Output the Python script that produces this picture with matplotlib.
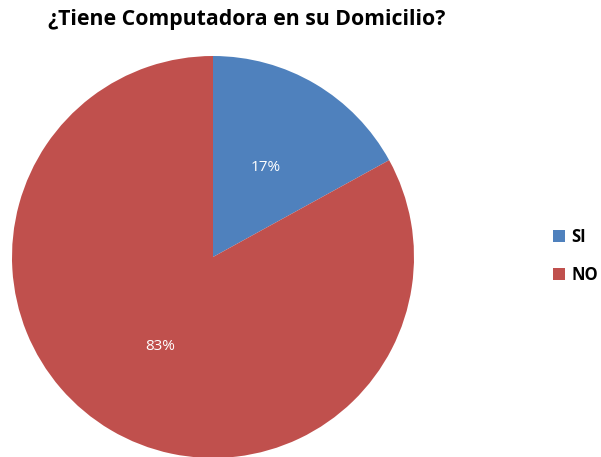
import matplotlib.pyplot as plt
from matplotlib.patches import Patch

# data
labels = ['SI', 'NO']
values = [17, 83]
colors = ['#4F81BD', '#C0504D']

fig = plt.figure(figsize=(6.01, 4.57), dpi=100)
ax = fig.add_axes([12 / 601, (457 - 458) / 457, 402 / 601, 402 / 457])

wedges, texts, autotexts = ax.pie(values, colors=colors, startangle=90, counterclock=False,
                                  autopct='%1.0f%%', pctdistance=0.52, radius=1.0,
                                  textprops={'color': 'white', 'fontsize': 11, 'family': 'Open Sans'})
ax.set_xlim(-1, 1)
ax.set_ylim(-1, 1)
ax.set_aspect('equal')

fig.text(48 / 601, 1 - 20 / 457, '¿Tiene Computadora en su Domicilio?', fontsize=15.3,
         fontweight='bold', family='Open Sans', ha='left', va='center')

handles = [Patch(facecolor=c, edgecolor='none') for c in colors]
leg = fig.legend(handles, labels, loc='center left', bbox_to_anchor=(538 / 601, 1 - 256 / 457),
                 frameon=False, handlelength=0.7, handleheight=0.7, handletextpad=0.4,
                 labelspacing=1.2, prop={'family': 'Open Sans', 'weight': 'bold', 'size': 12})

plt.savefig('out.png', dpi=100)
